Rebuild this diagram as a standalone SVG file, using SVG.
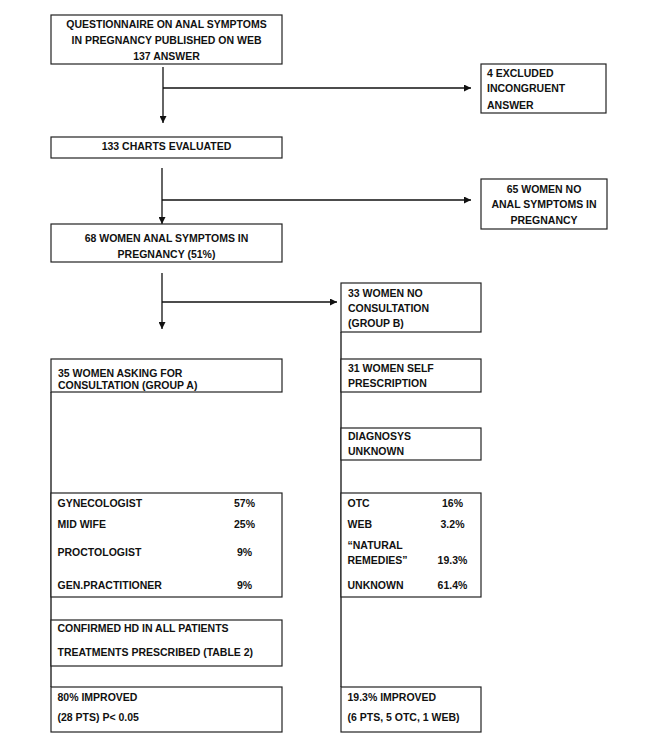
<svg xmlns="http://www.w3.org/2000/svg" width="669" height="748" viewBox="0 0 669 748">
<style>
.b{fill:#fff;stroke:#222;stroke-width:1.2}
.t{font-family:"Liberation Sans",Arial,sans-serif;font-weight:bold;font-size:10.5px;fill:#111}
.c{text-anchor:middle}
.ln{fill:none;stroke:#111;stroke-width:1.3}
</style>
<defs>
<marker id="ah" viewBox="0 0 10 10" refX="10" refY="5" markerWidth="7" markerHeight="7" markerUnits="userSpaceOnUse" orient="auto">
<path d="M0,0 L10,5 L0,10 z" fill="#111"/>
</marker>
</defs>
<rect width="669" height="748" fill="#fff"/>
<g id="connectors">
<path class="ln" d="M163,67 V123" marker-end="url(#ah)"/>
<path class="ln" d="M163,88 H471" marker-end="url(#ah)"/>
<path class="ln" d="M162,168 V224" marker-end="url(#ah)"/>
<path class="ln" d="M162,200 H471" marker-end="url(#ah)"/>
<path class="ln" d="M162,273 V329" marker-end="url(#ah)"/>
<path class="ln" d="M162,302 H337" marker-end="url(#ah)"/>
<path class="ln" d="M51,392 V687"/>
<path class="ln" d="M341,332 V687"/>
</g>
<g id="n_questionnaire">
<rect class="b" x="51" y="15" width="231" height="49"/>
<text class="t c" x="166.5" y="28">QUESTIONNAIRE ON ANAL SYMPTOMS</text>
<text class="t c" x="166.5" y="43.5">IN PREGNANCY PUBLISHED ON WEB</text>
<text class="t c" x="166.5" y="59.5">137 ANSWER</text>
</g>
<g id="n_excluded">
<rect class="b" x="481" y="64" width="125" height="49"/>
<text class="t" x="487" y="76.5">4 EXCLUDED</text>
<text class="t" x="487" y="92">INCONGRUENT</text>
<text class="t" x="487" y="109">ANSWER</text>
</g>
<g id="n_charts">
<rect class="b" x="51" y="137" width="231" height="21"/>
<text class="t c" x="166.5" y="149.5">133 CHARTS EVALUATED</text>
</g>
<g id="n_nosymptoms">
<rect class="b" x="481" y="179" width="126" height="50"/>
<text class="t c" x="544" y="192.7">65 WOMEN NO</text>
<text class="t c" x="544" y="208.3">ANAL SYMPTOMS IN</text>
<text class="t c" x="544" y="224.3">PREGNANCY</text>
</g>
<g id="n_symptoms">
<rect class="b" x="51" y="224" width="231" height="38"/>
<text class="t c" x="166.5" y="241.7">68 WOMEN ANAL SYMPTOMS IN</text>
<text class="t c" x="166.5" y="257.7">PREGNANCY (51%)</text>
</g>
<g id="n_groupB">
<rect class="b" x="341" y="283" width="140" height="49"/>
<text class="t" x="348" y="296.7">33 WOMEN NO</text>
<text class="t" x="348" y="311.7">CONSULTATION</text>
<text class="t" x="348" y="326.7">(GROUP B)</text>
</g>
<g id="n_groupA">
<rect class="b" x="51" y="359" width="231" height="33"/>
<text class="t" x="58" y="376.5">35 WOMEN ASKING FOR</text>
<text class="t" x="58" y="389">CONSULTATION (GROUP A)</text>
</g>
<g id="n_selfpres">
<rect class="b" x="341" y="359" width="140" height="33"/>
<text class="t" x="348" y="371.7">31 WOMEN SELF</text>
<text class="t" x="348" y="387.3">PRESCRIPTION</text>
</g>
<g id="n_diagnosis">
<rect class="b" x="341" y="428" width="140" height="32"/>
<text class="t" x="348" y="440">DIAGNOSYS</text>
<text class="t" x="348" y="455">UNKNOWN</text>
</g>
<g id="n_specialists">
<rect class="b" x="51" y="493" width="231" height="104"/>
<text class="t" x="57.5" y="506.7">GYNECOLOGIST</text>
<text class="t c" x="244.5" y="506.7">57%</text>
<text class="t" x="57.5" y="527.7">MID WIFE</text>
<text class="t c" x="244.5" y="527.7">25%</text>
<text class="t" x="57.5" y="556">PROCTOLOGIST</text>
<text class="t c" x="244.5" y="556">9%</text>
<text class="t" x="57.5" y="589.3">GEN.PRACTITIONER</text>
<text class="t c" x="244.5" y="589.3">9%</text>
</g>
<g id="n_remedies">
<rect class="b" x="341" y="493" width="140" height="104"/>
<text class="t" x="347.5" y="506.7">OTC</text>
<text class="t c" x="452.5" y="506.7">16%</text>
<text class="t" x="347.5" y="527.7">WEB</text>
<text class="t c" x="452.5" y="527.7">3.2%</text>
<text class="t" x="347.5" y="549">“NATURAL</text>
<text class="t" x="347.5" y="564.3">REMEDIES”</text>
<text class="t c" x="452.5" y="564.3">19.3%</text>
<text class="t" x="347.5" y="589">UNKNOWN</text>
<text class="t c" x="452.5" y="589">61.4%</text>
</g>
<g id="n_confirmed">
<rect class="b" x="51" y="620" width="231" height="46"/>
<text class="t" x="57.5" y="631.7">CONFIRMED HD IN ALL PATIENTS</text>
<text class="t" x="57.5" y="655.7">TREATMENTS PRESCRIBED (TABLE 2)</text>
</g>
<g id="n_improvedA">
<rect class="b" x="51" y="687" width="231" height="45"/>
<text class="t" x="57.5" y="700.7">80% IMPROVED</text>
<text class="t" x="57.5" y="720.5">(28 PTS) P&lt; 0.05</text>
</g>
<g id="n_improvedB">
<rect class="b" x="341" y="687" width="140" height="45"/>
<text class="t" x="347.5" y="700.7">19.3% IMPROVED</text>
<text class="t" x="347.5" y="720.5">(6 PTS, 5 OTC, 1 WEB)</text>
</g>
</svg>
